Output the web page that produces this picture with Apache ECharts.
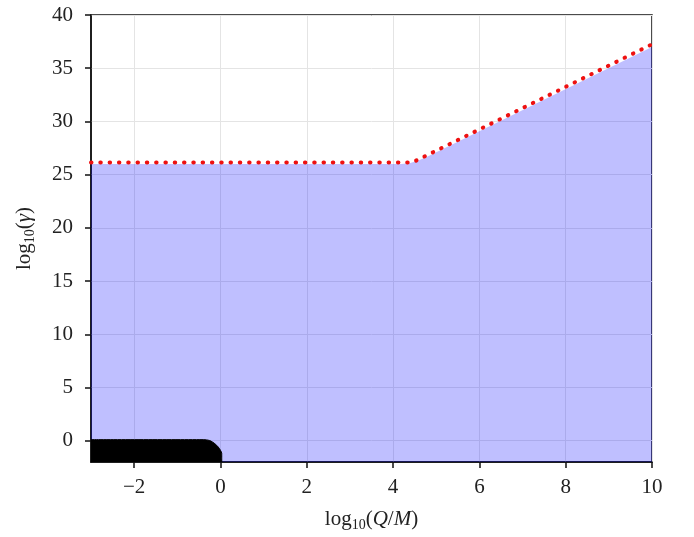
<!DOCTYPE html>
<html>
<head>
<meta charset="utf-8">
<script src="https://cdn.jsdelivr.net/npm/echarts@6/dist/echarts.min.js"></script>
<style>
  html, body { margin: 0; padding: 0; background: #fff; }
  #chart { width: 694px; height: 537px; }
</style>
</head>
<body>
<div id="chart"></div>
<script>
  // region shaded in blue
  var blueX = [-3, 4.2, 4.4, 4.6, 4.8, 5.0, 10]
  var blueY = [26.0, 26.0, 26.1, 26.35, 26.7, 27.1, 37.0]
  // red dotted bound
  var redX = [-3, 4.45, 10]
  var redY = [26.15, 26.15, 37.25]
  // black region bottom-left
  var blackX = [-3, -0.4, -0.25, -0.13, -0.05, 0.0, 0.03, 0.03]
  var blackY = [0.1, 0.1, 0.02, -0.28, -0.6, -0.9, -1.2, -2]
  var xTicks = [-2, 0, 2, 4, 6, 8, 10]
  var yTicks = [0, 5, 10, 15, 20, 25, 30, 35, 40]

  function pairs (xs, ys) {
    return xs.map(function (x, i) { return [x, ys[i]] })
  }
  function fmt (v) {
    return String(v).replace('-', '\u2212')
  }

  var font = 'Liberation Serif'
  var nameRich = {
    a: { fontFamily: font, fontSize: 21, color: '#222' },
    i: { fontFamily: font, fontSize: 21, fontStyle: 'italic', color: '#222' },
    s: { fontFamily: font, fontSize: 14, color: '#222', padding: [12, 0, 0, 0] }
  }

  var chart = echarts.init(document.getElementById('chart'))
  chart.setOption({
    animation: false,
    grid: {
      left: 91, right: 42, top: 15, bottom: 75,
      outerBoundsMode: 'none',
      containLabel: false,
      show: true, borderColor: '#111', borderWidth: 1.5, backgroundColor: 'transparent'
    },
    xAxis: {
      type: 'value',
      min: -3,
      max: 10,
      name: '{a|log}{s|10}{a|(}{i|Q}{a|/}{i|M}{a|)}',
      nameLocation: 'middle',
      nameGap: 44,
      nameTextStyle: { rich: nameRich },
      axisLine: { show: true, onZero: false, lineStyle: { color: '#111', width: 1.5 } },
      axisTick: { show: true, length: 6, customValues: xTicks, lineStyle: { color: '#111', width: 1.5 } },
      axisLabel: { customValues: xTicks, margin: 15, fontFamily: font, fontSize: 21, color: '#222', formatter: fmt },
      splitLine: { show: true, lineStyle: { color: '#e4e4e4', width: 1 } }
    },
    yAxis: {
      type: 'value',
      min: -2,
      max: 40,
      name: '{a|log}{s|10}{a|(}{i|γ}{a|)}',
      nameLocation: 'middle',
      nameGap: 54,
      nameRotate: 90,
      nameTextStyle: { rich: nameRich },
      axisLine: { show: true, onZero: false, lineStyle: { color: '#111', width: 1.5 } },
      axisTick: { show: true, length: 6, customValues: yTicks, lineStyle: { color: '#111', width: 1.5 } },
      axisLabel: { customValues: yTicks, margin: 18, fontFamily: font, fontSize: 21, color: '#222', formatter: fmt },
      splitLine: { show: true, lineStyle: { color: '#e4e4e4', width: 1 } }
    },
    series: [
      {
        name: 'blue',
        type: 'line',
        data: pairs(blueX, blueY),
        showSymbol: false,
        lineStyle: { width: 0 },
        areaStyle: { color: 'rgba(0,0,255,0.25)', opacity: 1, origin: 'start' }
      },
      {
        name: 'black',
        type: 'line',
        data: pairs(blackX, blackY),
        showSymbol: false,
        smooth: 0.3,
        lineStyle: { color: '#000', width: 1 },
        areaStyle: { color: '#000', opacity: 1, origin: 'start' }
      },
      {
        name: 'red',
        type: 'line',
        data: pairs(redX, redY),
        showSymbol: false,
        z: 5,
        lineStyle: { color: '#ee1111', width: 4, type: [0.5, 8.8], cap: 'round' }
      }
    ]
  })
</script>
</body>
</html>
